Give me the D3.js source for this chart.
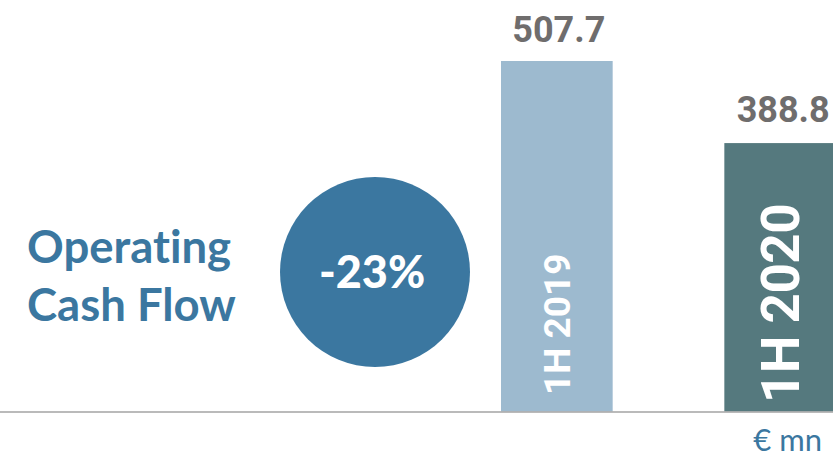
<!DOCTYPE html>
<html>
<head>
<meta charset="utf-8">
<script src="https://cdn.jsdelivr.net/npm/d3@7"></script>
<style>
  html, body { margin: 0; padding: 0; background: #fff; }
  svg { display: block; }
  text { font-variant-ligatures: none; }
</style>
</head>
<body>
<svg id="chart" width="833" height="457"></svg>
<script>
// Operating cash flow, first half of each year (€ mn)
const categories = ["1H 2019", "1H 2020"];
const values = [507.7, 388.8];
const valueLabels = ["507.7", "388.8"];
const barColors = ["#9dbacf", "#55797e"];
const changeLabel = "-23%";
const titleLines = ["Operating", "Cash Flow"];
const unitLabel = "€ mn";

const W = 833, H = 457;
const baseY = 411.5;
const svg = d3.select("#chart");

const x = d3.scaleBand()
  .domain(categories)
  .range([501, 836])
  .paddingInner(0.5)
  .paddingOuter(0);

const y = d3.scaleLinear()
  .domain([0, d3.max(values)])
  .range([baseY, 61]);

// Title
const title = svg.append("text")
  .attr("x", 27)
  .attr("y", 263)
  .attr("fill", "#3b77a0")
  .style("font-family", "Lato, sans-serif")
  .style("font-weight", "700")
  .style("font-size", "45.5px");
title.selectAll("tspan")
  .data(titleLines)
  .join("tspan")
  .attr("x", 27)
  .attr("dy", (d, i) => i === 0 ? 0 : 58)
  .text(d => d);

// Change badge
svg.append("circle")
  .attr("cx", 375)
  .attr("cy", 272)
  .attr("r", 95)
  .attr("fill", "#3b77a0");
svg.append("text")
  .attr("x", 372)
  .attr("y", 288)
  .attr("text-anchor", "middle")
  .attr("fill", "#ffffff")
  .style("font-family", "Lato, sans-serif")
  .style("font-weight", "900")
  .style("font-size", "45px")
  .text(changeLabel);

// Bars
const rows = categories.map((c, i) => ({ cat: c, value: values[i], label: valueLabels[i], color: barColors[i], i }));

svg.selectAll("rect.bar")
  .data(rows)
  .join("rect")
  .attr("class", "bar")
  .attr("x", d => x(d.cat))
  .attr("y", d => y(d.value))
  .attr("width", x.bandwidth())
  .attr("height", d => y(0) - y(d.value))
  .attr("fill", d => d.color);

// Value labels above bars
svg.selectAll("text.val")
  .data(rows)
  .join("text")
  .attr("class", "val")
  .attr("x", d => x(d.cat) + x.bandwidth() / 2 + (d.i === 0 ? 2 : 3))
  .attr("y", d => y(d.value) - (d.i === 0 ? 19 : 21))
  .attr("text-anchor", "middle")
  .attr("fill", "#6f6d6d")
  .style("font-family", "Roboto, sans-serif")
  .style("font-weight", "700")
  .style("font-size", "36px")
  .text(d => d.label);

// Category labels inside bars, reading upward
const catSizes = [37, 53];
const catSpacing = [0, -0.5];
const catBottom = [395, 403];
svg.selectAll("text.cat")
  .data(rows)
  .join("text")
  .attr("class", "cat")
  .attr("transform", d => {
    const cx = x(d.cat) + x.bandwidth() / 2 + 0.36 * catSizes[d.i];
    return `translate(${cx},${catBottom[d.i]}) rotate(-90)`;
  })
  .attr("fill", "#ffffff")
  .style("font-family", "Roboto, sans-serif")
  .style("font-weight", "700")
  .style("font-size", d => catSizes[d.i] + "px")
  .style("letter-spacing", d => catSpacing[d.i] + "px")
  .text(d => d.cat);

// Baseline
svg.append("line")
  .attr("x1", 0)
  .attr("x2", W)
  .attr("y1", baseY + 0.5)
  .attr("y2", baseY + 0.5)
  .attr("stroke", "#a3a3a3")
  .attr("stroke-width", 1.5);

// Unit
svg.append("text")
  .attr("x", 822)
  .attr("y", 451)
  .attr("text-anchor", "end")
  .attr("fill", "#3b77a0")
  .style("font-family", "Lato, sans-serif")
  .style("font-size", "31px")
  .text(unitLabel);
</script>
</body>
</html>
